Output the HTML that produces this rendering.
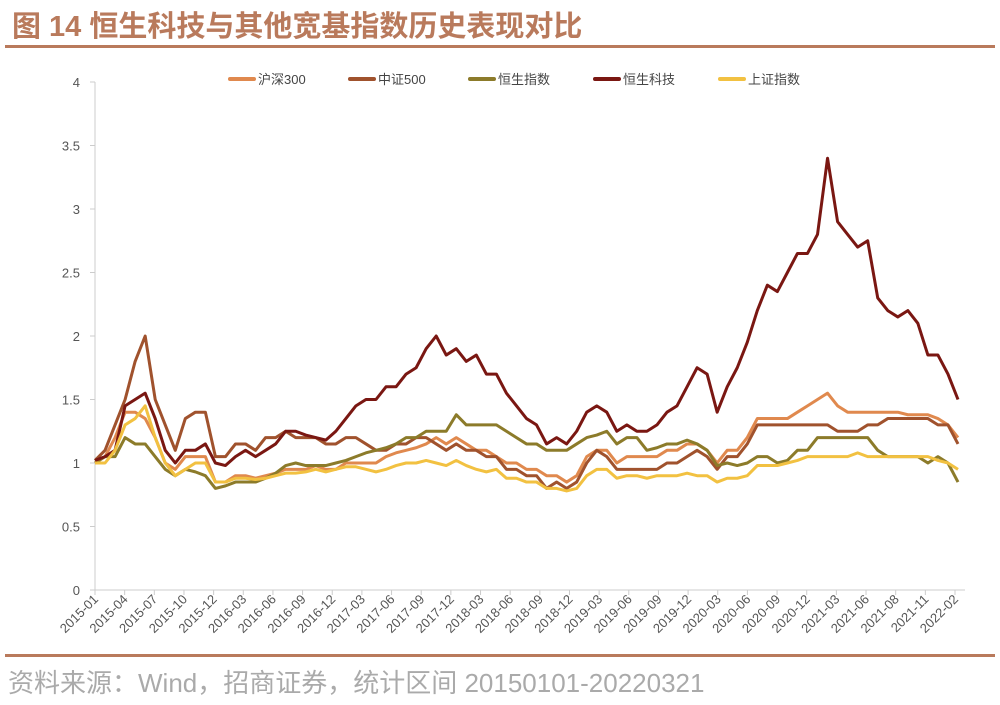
<!DOCTYPE html>
<html><head><meta charset="utf-8"><style>
body{margin:0;background:#fff;width:1000px;height:700px;overflow:hidden;font-family:"Liberation Sans","Noto Sans CJK SC",sans-serif}
</style></head><body>
<svg id="c" width="1000" height="700" xmlns="http://www.w3.org/2000/svg">
<text x="12" y="36" font-size="29" font-weight="bold" fill="#B97A5C" font-family="'Liberation Sans','Noto Sans CJK SC',sans-serif">图 14  恒生科技与其他宽基指数历史表现对比</text>
<rect x="5" y="45" width="990" height="3" fill="#B97A5C"/>
<rect x="5" y="654" width="990" height="3" fill="#B97A5C"/>
<text x="8" y="692" font-size="26" fill="#aaa">资料来源：Wind，招商证券，统计区间 20150101-20220321</text>
<g id="plot"></g>
</svg>
<script>
const months=87;
const hs300=[1.0,1.05,1.2,1.4,1.4,1.35,1.2,1.0,0.95,1.05,1.05,1.05, 0.85,0.85,0.9,0.9,0.88,0.9,0.92,0.95,0.95,0.95,0.98,0.95, 0.95,1.0,1.0,1.0,1.0,1.05,1.08,1.1,1.12,1.15,1.2,1.15, 1.2,1.15,1.1,1.1,1.05,1.0,1.0,0.95,0.95,0.9,0.9,0.85, 0.9,1.05,1.1,1.1,1.0,1.05,1.05,1.05,1.05,1.1,1.1,1.15, 1.15,1.1,1.0,1.1,1.1,1.2,1.35,1.35,1.35,1.35,1.4,1.45, 1.5,1.55,1.45,1.4,1.4,1.4,1.4,1.4,1.4,1.38,1.38,1.38, 1.35,1.3,1.2];
const zz500=[1.02,1.1,1.3,1.5,1.8,2.0,1.5,1.3,1.1,1.35,1.4,1.4, 1.05,1.05,1.15,1.15,1.1,1.2,1.2,1.25,1.2,1.2,1.2,1.15, 1.15,1.2,1.2,1.15,1.1,1.1,1.15,1.15,1.2,1.2,1.15,1.1, 1.15,1.1,1.1,1.05,1.05,0.95,0.95,0.9,0.9,0.8,0.85,0.8, 0.85,1.0,1.1,1.05,0.95,0.95,0.95,0.95,0.95,1.0,1.0,1.05, 1.1,1.05,0.95,1.05,1.05,1.15,1.3,1.3,1.3,1.3,1.3,1.3, 1.3,1.3,1.25,1.25,1.25,1.3,1.3,1.35,1.35,1.35,1.35,1.35, 1.3,1.3,1.15];
const hsi=[1.0,1.05,1.05,1.2,1.15,1.15,1.05,0.95,0.9,0.95,0.93,0.9, 0.8,0.82,0.85,0.85,0.85,0.88,0.92,0.98,1.0,0.98,0.98,0.98, 1.0,1.02,1.05,1.08,1.1,1.12,1.15,1.2,1.2,1.25,1.25,1.25, 1.38,1.3,1.3,1.3,1.3,1.25,1.2,1.15,1.15,1.1,1.1,1.1, 1.15,1.2,1.22,1.25,1.15,1.2,1.2,1.1,1.12,1.15,1.15,1.18, 1.15,1.1,0.98,1.0,0.98,1.0,1.05,1.05,1.0,1.02,1.1,1.1, 1.2,1.2,1.2,1.2,1.2,1.2,1.1,1.05,1.05,1.05,1.05,1.0, 1.05,1.0,0.85];
const hstech=[1.02,1.05,1.1,1.45,1.5,1.55,1.35,1.1,1.0,1.1,1.1,1.15, 1.0,0.98,1.05,1.1,1.05,1.1,1.15,1.25,1.25,1.22,1.2,1.18, 1.25,1.35,1.45,1.5,1.5,1.6,1.6,1.7,1.75,1.9,2.0,1.85, 1.9,1.8,1.85,1.7,1.7,1.55,1.45,1.35,1.3,1.15,1.2,1.15, 1.25,1.4,1.45,1.4,1.25,1.3,1.25,1.25,1.3,1.4,1.45,1.6, 1.75,1.7,1.4,1.6,1.75,1.95,2.2,2.4,2.35,2.5,2.65,2.65, 2.8,3.4,2.9,2.8,2.7,2.75,2.3,2.2,2.15,2.2,2.1,1.85, 1.85,1.7,1.5];
const sse=[1.0,1.0,1.1,1.3,1.35,1.45,1.2,1.0,0.9,0.95,1.0,1.0, 0.85,0.85,0.88,0.88,0.87,0.88,0.9,0.92,0.92,0.93,0.95,0.93, 0.95,0.97,0.97,0.95,0.93,0.95,0.98,1.0,1.0,1.02,1.0,0.98, 1.02,0.98,0.95,0.93,0.95,0.88,0.88,0.85,0.85,0.8,0.8,0.78, 0.8,0.9,0.95,0.95,0.88,0.9,0.9,0.88,0.9,0.9,0.9,0.92, 0.9,0.9,0.85,0.88,0.88,0.9,0.98,0.98,0.98,1.0,1.02,1.05, 1.05,1.05,1.05,1.05,1.08,1.05,1.05,1.05,1.05,1.05,1.05,1.05, 1.02,1.0,0.95];
const yTicks=["0","0.5","1","1.5","2","2.5","3","3.5","4"];
const xLabels=["2015-01","2015-04","2015-07","2015-10","2015-12","2016-03","2016-06","2016-09","2016-12","2017-03","2017-06","2017-09","2017-12","2018-03","2018-06","2018-09","2018-12","2019-03","2019-06","2019-09","2019-12","2020-03","2020-06","2020-09","2020-12","2021-03","2021-06","2021-08","2021-11","2022-02"];
const seriesNames=["沪深300","中证500","恒生指数","恒生科技","上证指数"];
const seriesData=[hs300,zz500,hsi,hstech,sse];
const colors=["#E0894E","#A0522D","#8C7B2A","#7A1712","#F2C141"];
const NS="http://www.w3.org/2000/svg";
const X0=95,X1=958,Y0=590,Y1=82;
const xs=i=>X0+i*(X1-X0)/(months-1);
const ys=v=>Y0-v*(Y0-Y1)/4;
const g=document.getElementById('plot');
function mk(t,a){const e=document.createElementNS(NS,t);for(const k in a)e.setAttribute(k,a[k]);g.appendChild(e);return e;}
yTicks.forEach(t=>{
 const y=ys(parseFloat(t));
 const l=mk('text',{x:80,y:y+5,'font-size':13,fill:'#555','text-anchor':'end'});l.textContent=t;
 
 
 const tk=mk('line',{x1:90,x2:95,y1:y,y2:y,stroke:'#ccc'});
 
 
});
const ya=mk('line',{x1:95,x2:95,y1:Y1,y2:Y0,stroke:'#ccc'});


const xa=mk('line',{x1:95,x2:965,y1:Y0,y2:Y0,stroke:'#ccc'});


xLabels.forEach((t,i)=>{
 const x=X0+i*(955-X0)/(xLabels.length-1);
 const tk=mk('line',{x1:x,x2:x,y1:Y0,y2:Y0+5,stroke:'#ccc'});
 
 
 const l=mk('text',{x:x+4,y:Y0+10,'font-size':13,fill:'#555','text-anchor':'end',transform:`rotate(-45 ${x+4} ${Y0+10})`});
 l.textContent=t;
 
 
});
seriesData.forEach((d,s)=>{
 const p=mk('polyline',{points:d.map((v,i)=>xs(i)+','+ys(v)).join(' '),fill:'none',stroke:colors[s],'stroke-width':3,'stroke-linejoin':'round'});
 
 
});
const lx=[230,350,470,595,720];
seriesNames.forEach((n,i)=>{
 const r=mk('line',{x1:lx[i],x2:lx[i]+24,y1:79,y2:79,stroke:colors[i],'stroke-width':4,'stroke-linecap':'round'});
 
 
 const t=mk('text',{x:lx[i]+28,y:84,'font-size':13,fill:'#444'});t.textContent=n;
 
 
});
</script>
</body></html>
